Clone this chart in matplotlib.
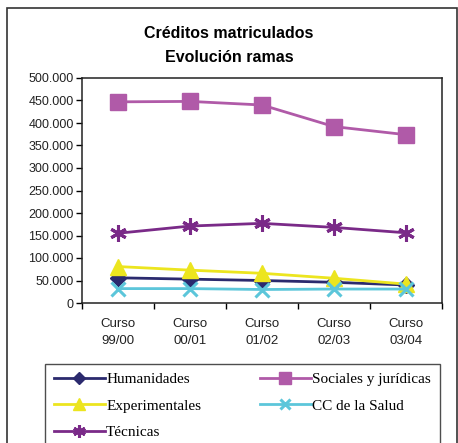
import numpy as np
import matplotlib
matplotlib.use('Agg')
import matplotlib.pyplot as plt
from matplotlib.patches import Rectangle
from matplotlib.ticker import FuncFormatter

# data
cursos = ['Curso\n99/00', 'Curso\n00/01', 'Curso\n01/02', 'Curso\n02/03', 'Curso\n03/04']
humanidades = [56000, 53000, 50000, 46000, 40000]
sociales = [447000, 448000, 440000, 392000, 374000]
experimentales = [81000, 73000, 66000, 55000, 42000]
salud = [32000, 32000, 30000, 31000, 31000]
tecnicas = [155000, 171000, 177000, 168000, 156000]

plt.rcParams['font.family'] = ['Liberation Sans', 'DejaVu Sans']

fig = plt.figure(figsize=(4.58, 4.43), dpi=100)
fig.patches.append(Rectangle((7/458, -0.2), 450/458, 1.2 - 8/443, transform=fig.transFigure,
                             fill=False, edgecolor='#333333', linewidth=1.2))
ax = fig.add_axes([82/458, 1 - 303/443, 360/458, 225/443])

x = np.arange(len(cursos))
h1, = ax.plot(x, humanidades, color='#2b2a6e', lw=2, marker='D', ms=8, label='Humanidades')
h2, = ax.plot(x, sociales, color='#b05aa8', lw=2, marker='s', ms=11, label='Sociales y jurídicas')
h3, = ax.plot(x, experimentales, color='#ece51f', lw=2, marker='^', ms=12, label='Experimentales')
h4, = ax.plot(x, salud, color='#5cc6da', lw=2, marker='x', ms=10, mew=2.2, label='CC de la Salud')
h5, = ax.plot(x, tecnicas, color='#7a2a88', lw=2, marker=(6, 2, 0), ms=12, mew=2.2, label='Técnicas')

ax.set_xlim(-0.5, 4.5)
ax.set_ylim(0, 500000)
ax.set_yticks(np.arange(0, 500001, 50000))
ax.yaxis.set_major_formatter(FuncFormatter(lambda v, p: '0' if v == 0 else f'{int(v):,}'.replace(',', '.')))
ax.set_xticks(x)
ax.set_xticklabels(cursos, fontsize=9.5, color='#222222', linespacing=1.55)
ax.set_xticks(np.arange(-0.5, 5, 1), minor=True)
ax.tick_params(axis='x', which='major', length=0, pad=11)
ax.tick_params(axis='x', which='minor', length=4, width=1)
ax.tick_params(axis='y', length=4, width=1, labelsize=9, labelcolor='#222222', pad=2)
for s in ax.spines.values():
    s.set_linewidth(1.1)
    s.set_color('#222222')

fig.text(0.5, 1 - 33/443, 'Créditos matriculados', ha='center', va='center', fontsize=11.5, fontweight='bold')
fig.text(0.5, 1 - 57/443, 'Evolución ramas', ha='center', va='center', fontsize=11.5, fontweight='bold')

# row-wise order like the original: column 1 then column 2
handles = [h1, h3, h5, h2, h4]
leg = fig.legend(handles, [h.get_label() for h in handles],
                 loc='upper left', bbox_to_anchor=(45/458, 1 - 368/443, 395/458, 0.01),
                 ncol=2, mode='expand', prop={'family': 'Liberation Serif', 'size': 11},
                 markerscale=0.75, handlelength=3.3, handletextpad=0.1, labelspacing=0.82,
                 borderpad=0.6, borderaxespad=0, frameon=True, fancybox=False, edgecolor='#222222')
leg.get_frame().set_linewidth(1.0)

fig.savefig('out.png', dpi=100)
